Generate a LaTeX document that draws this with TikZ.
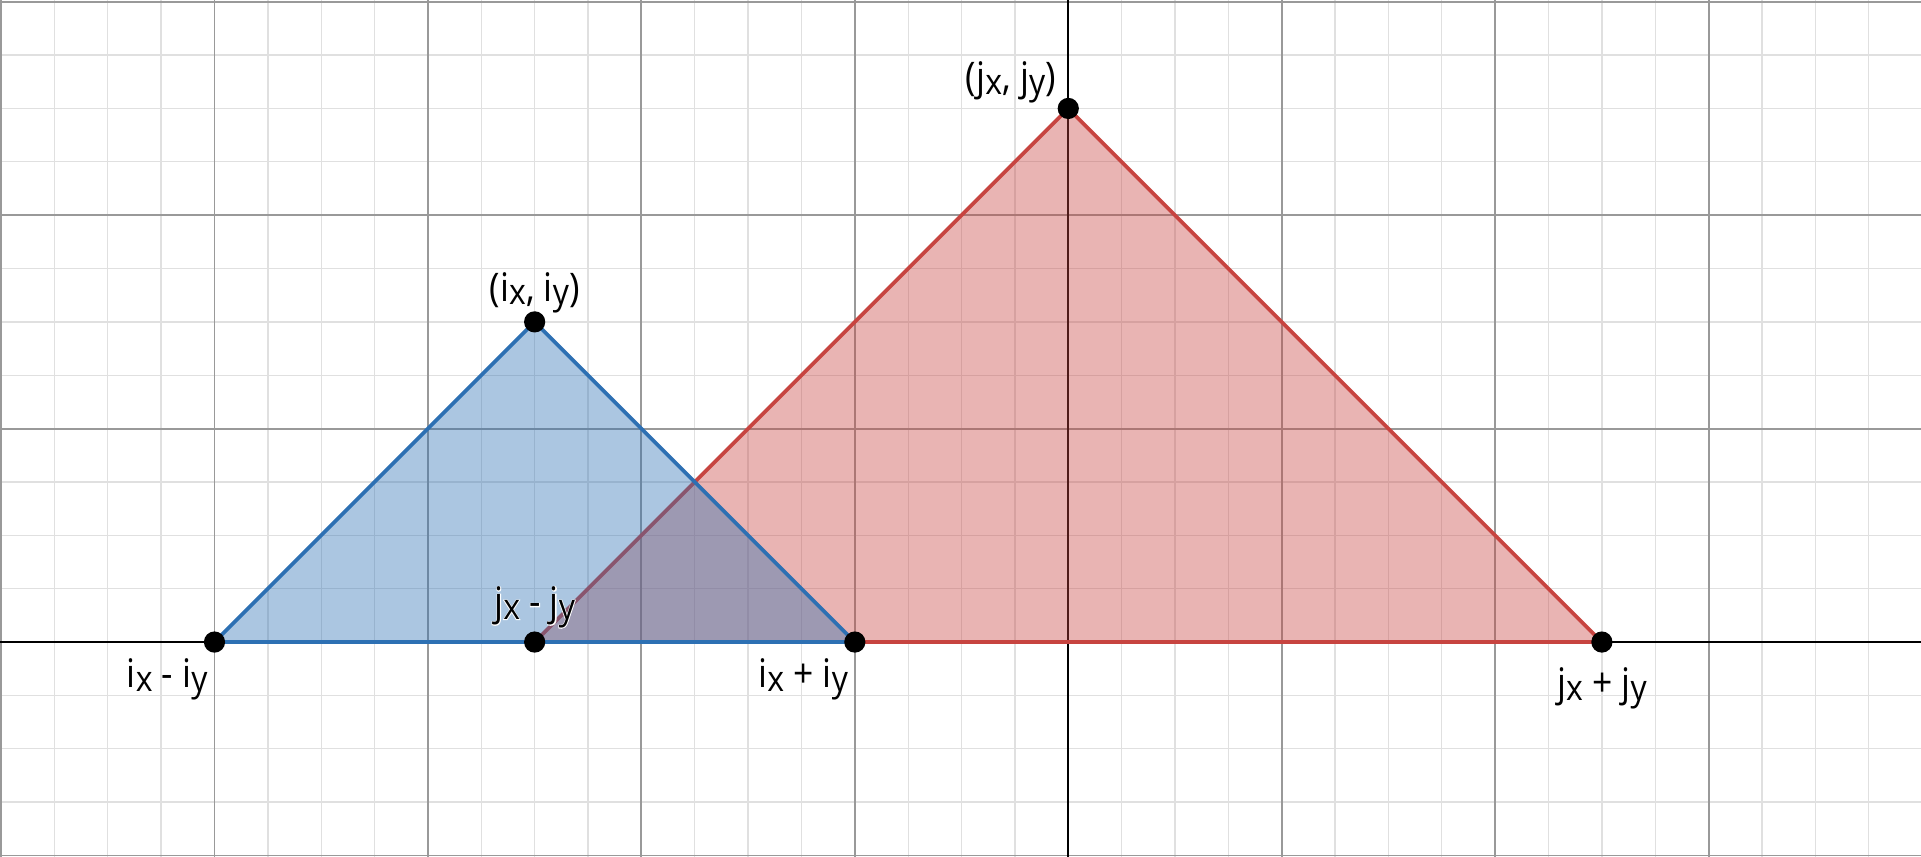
\documentclass[tikz,border=0pt]{standalone}
\usepackage{fontspec}
\setmainfont{Open Sans}[FakeStretch=0.9]
\definecolor{dblue}{HTML}{2D70B3}
\definecolor{dred}{HTML}{C74440}
\newcommand\lo[1]{\raisebox{-.1em}{\fontsize{9.5}{10}\selectfont #1}}
\newcommand\halo[1]{\rlap{\addfontfeature{FakeBold=4}\color{white}#1}#1}
\begin{document}
\begin{tikzpicture}[x=2cm,y=2cm,font=\fontsize{10.5}{12}\selectfont,every node/.style={circle,fill=black,inner sep=2pt},every label/.style={rectangle,fill=none,draw=none,inner sep=1pt},minorgrid/.style={black!12,line width=.35pt},majorgrid/.style={black!40,line width=.5pt},tri/.style={line width=1pt,line join=round,fill opacity=.4}]
\useasboundingbox (-5.005,-1.003) rectangle (3.995,3.008);\clip (-5.005,-1.003) rectangle (3.995,3.008);
\draw[minorgrid] (-5.5,-1.5) grid[step=.25] (4.5,3.5);\draw[majorgrid] (-5.5,-1.5) grid[step=1] (4.5,3.5);
\draw[black,line width=.55pt] (-5.5,0)--(4.5,0);\draw[black,line width=.55pt] (0,-1.5)--(0,3.5);
\coordinate (itop) at (-2.5,1.5);\coordinate (ileft) at (-4,0);\coordinate (iright) at (-1,0);
\coordinate (jtop) at (0,2.5);\coordinate (jleft) at (-2.5,0);\coordinate (jright) at (2.5,0);
\draw[tri,draw=dred,fill=dred] (jleft)--(jtop)--(jright)--cycle;
\draw[tri,draw=dblue,fill=dblue] (ileft)--(itop)--(iright)--cycle;
\node[label={[label distance=0pt,yshift=-1.8pt]above left:{(j\lo{x}, j\lo{y})}}] (jtopdot) at (jtop) {};
\node[label={[label distance=0pt,yshift=-2pt]above:{(i\lo{x}, i\lo{y})}}] (itopdot) at (itop) {};
\node[label={[label distance=0pt,xshift=1.5pt,yshift=-1pt]below left:{i\lo{x} - i\lo{y}}}] (ileftdot) at (ileft) {};
\node[label={[label distance=0pt,xshift=1.5pt,yshift=-1pt]below left:{i\lo{x} + i\lo{y}}}] (irightdot) at (iright) {};
\node[label={[label distance=0pt,yshift=-.5pt]above:{\halo{j\lo{x} - j\lo{y}}}}] (jleftdot) at (jleft) {};
\node[label={[label distance=2.6pt]below:{j\lo{x} + j\lo{y}}}] (jrightdot) at (jright) {};
\end{tikzpicture}
\end{document}
